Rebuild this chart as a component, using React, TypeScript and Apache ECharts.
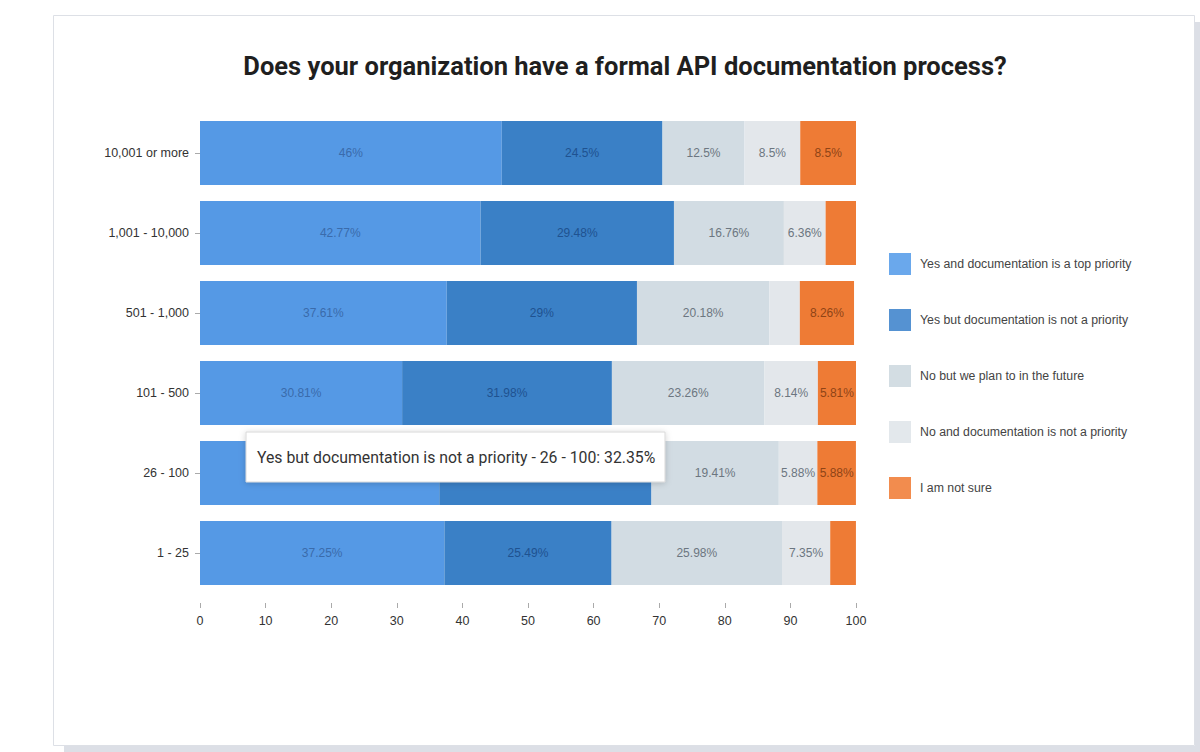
import React, { useEffect, useRef } from "react";
import * as echarts from "echarts";

const categories = ["10,001 or more", "1,001 - 10,000", "501 - 1,000", "101 - 500", "26 - 100", "1 - 25"];
const seriesNames = [
  "Yes and documentation is a top priority",
  "Yes but documentation is not a priority",
  "No but we plan to in the future",
  "No and documentation is not a priority",
  "I am not sure",
];
const topPriority = [46, 42.77, 37.61, 30.81, 36.47, 37.25];
const notPriority = [24.5, 29.48, 29, 31.98, 32.35, 25.49];
const planFuture = [12.5, 16.76, 20.18, 23.26, 19.41, 25.98];
const noNotPriority = [8.5, 6.36, 4.65, 8.14, 5.88, 7.35];
const notSure = [8.5, 4.63, 8.26, 5.81, 5.88, 3.92];
const xTicks = [0, 10, 20, 30, 40, 50, 60, 70, 80, 90, 100];

const seriesValues = [topPriority, notPriority, planFuture, noNotPriority, notSure];
const barColors = ["#5599e5", "#3a80c6", "#d2dce3", "#e3e7eb", "#ee7b35"];
const legendColors = ["#6aa8ec", "#5592d2", "#d3dde3", "#e3e8ec", "#f28c4e"];
const labelColors = ["#3a6bab", "#1f5290", "#6c7680", "#6c7680", "#8f4416"];

const tooltipText = "Yes but documentation is not a priority - 26 - 100: 32.35%";

export default function App() {
  const ref = useRef<HTMLDivElement>(null);
  useEffect(() => {
    if (!ref.current) return;
    const chart = echarts.init(ref.current, null, { renderer: "svg" });
    const font = "'Liberation Sans', Arial, Helvetica, sans-serif";
    chart.setOption({
      animation: false,
      backgroundColor: "#ffffff",
      title: {
        text: "Does your organization have a formal API documentation process?",
        left: 620,
        top: 48,
        textAlign: "center",
        textStyle: { fontFamily: "Roboto", fontWeight: "bold", fontSize: 25.5, color: "#1f1f1f" },
      },
      legend: {
        orient: "vertical",
        left: 889,
        top: 253,
        padding: 0,
        itemWidth: 22,
        itemHeight: 22,
        itemGap: 34,
        icon: "rect",
        textStyle: { fontFamily: font, fontSize: 12.3, color: "#444", padding: [0, 0, 0, 4] },
        data: seriesNames.map((n, i) => ({ name: n, itemStyle: { color: legendColors[i] } })),
      },
      grid: { left: 200, right: 344, top: 113, bottom: 159, containLabel: false },
      xAxis: {
        type: "value",
        min: 0,
        max: 100,
        interval: 10,
        offset: 10,
        axisLine: { show: false },
        axisTick: { show: true, length: 5, lineStyle: { color: "#aaa" } },
        splitLine: { show: false },
        axisLabel: {
          margin: 11,
          fontFamily: font,
          fontSize: 12.5,
          color: "#333",
          formatter: (v: number) => (xTicks.includes(v) ? String(v) : ""),
        },
      },
      yAxis: {
        type: "category",
        inverse: true,
        data: categories,
        axisLine: { show: false },
        axisTick: { show: true, length: 5, alignWithLabel: true, lineStyle: { color: "#aaa" } },
        axisLabel: { margin: 11, fontFamily: font, fontSize: 12.5, color: "#333" },
      },
      series: seriesValues.map((vals, i) => ({
        name: seriesNames[i],
        type: "bar",
        stack: "total",
        barCategoryGap: "20%",
        itemStyle: { color: barColors[i] },
        label: {
          show: true,
          position: "inside",
          formatter: "{c}%",
          fontFamily: font,
          fontSize: 12,
          color: labelColors[i],
        },
        data: vals.map((v) => ({ value: v, label: { show: v >= 5 } })),
      })),
      graphic: [
        { type: "rect", z: 0, silent: true, shape: { x: 1195, y: 22, width: 5, height: 730 }, style: { fill: "#dcdfe6" } },
        { type: "rect", z: 0, silent: true, shape: { x: 64, y: 746, width: 1136, height: 6 }, style: { fill: "#dcdfe6" } },
        {
          type: "rect",
          z: 0,
          silent: true,
          shape: { x: 53.5, y: 15.5, width: 1141, height: 730 },
          style: { fill: "none", stroke: "#dde0e6", lineWidth: 1 },
        },
        {
          type: "rect",
          z: 100,
          silent: true,
          shape: { x: 246, y: 432, width: 419, height: 50 },
          style: { fill: "#ffffff", stroke: "#d8d8d8", lineWidth: 1, shadowBlur: 6, shadowColor: "rgba(0,0,0,0.18)", shadowOffsetY: 1 },
        },
        {
          type: "text",
          z: 101,
          silent: true,
          x: 257,
          y: 457,
          style: {
            text: tooltipText,
            fontFamily: "Roboto",
            fontSize: 15.8,
            fill: "#333",
            verticalAlign: "middle",
            align: "left",
          },
        },
      ],
    });
    return () => chart.dispose();
  }, []);
  return <div ref={ref} style={{ position: "fixed", left: 0, top: 0, width: 1200, height: 752 }} />;
}
